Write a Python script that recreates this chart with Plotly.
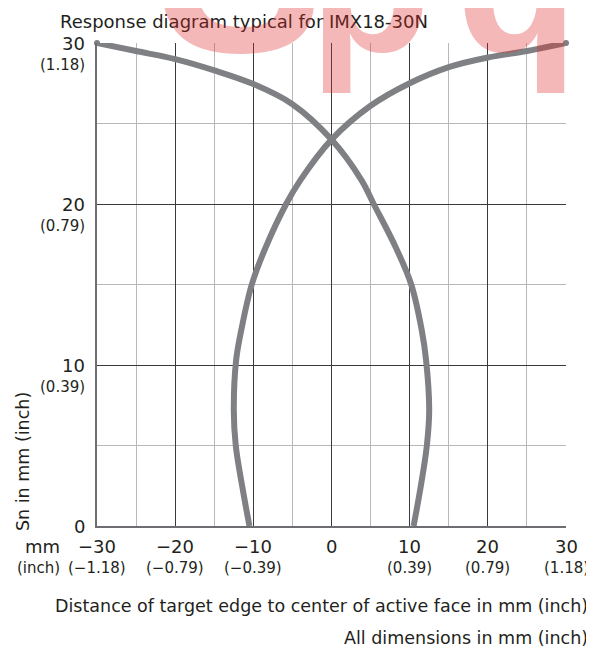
import plotly.graph_objects as go

# ---- data ----
# Curve starting at the top-left corner (-30, 30)
curve_a_x = [-30, -25, -20, -15, -10, -5, 0, 3.85, 5.4, 8.2, 10.2, 11.55, 12.1, 12.5, 12.2, 11.4, 10.5]
curve_a_y = [30, 29.5, 29.0, 28.3, 27.45, 26.2, 24.0, 21.47, 20.0, 17.33, 15.0, 12.15, 10.3, 7.2, 5.0, 2.4, 0]
# Curve starting at the top-right corner (30, 30)
curve_b_x = [30, 25, 20, 15, 10, 5, 0, -4.0, -5.8, -8.4, -10.2, -11.55, -12.2, -12.5, -12.25, -11.4, -10.5]
curve_b_y = [30, 29.5, 29.1, 28.5, 27.5, 26.1, 24.0, 21.47, 20.0, 17.33, 15.0, 12.15, 10.3, 7.2, 5.0, 2.4, 0]

x_tick_vals = [-30, -20, -10, 0, 10, 20, 30]
x_tick_mm = ["\u221230", "\u221220", "\u221210", "0", "10", "20", "30"]
x_tick_inch = ["(\u22121.18)", "(\u22120.79)", "(\u22120.39)", "", "(0.39)", "(0.79)", "(1.18)"]
y_tick_vals = [0, 10, 20, 30]
y_tick_mm = ["0", "10", "20", "30"]
y_tick_inch = ["", "(0.39)", "(0.79)", "(1.18)"]

title_text = "Response diagram typical for IMX18-30N"
x_title = "Distance of target edge to center of active face in mm (inch)"
y_title = "Sn in mm (inch)"
note_text = "All dimensions in mm (inch)"

FONT = "DejaVu Sans"
TXT = "#231f20"
CURVE = "#7f8084"
PINK = "rgba(225,40,40,0.33)"

fig = go.Figure()
for cx, cy in [(curve_a_x, curve_a_y), (curve_b_x, curve_b_y)]:
    fig.add_trace(go.Scatter(x=cx, y=cy, mode="lines",
                             line=dict(color=CURVE, width=6, shape="spline", smoothing=1.0),
                             hoverinfo="skip", showlegend=False))
    fig.add_trace(go.Scatter(x=[cx[0]], y=[cy[0]], mode="markers",
                             marker=dict(color=CURVE, size=6), cliponaxis=False,
                             hoverinfo="skip", showlegend=False))

annotations = []
# y tick labels
for v, mm, inch in zip(y_tick_vals, y_tick_mm, y_tick_inch):
    annotations.append(dict(x=0, xref="paper", y=v, yref="y", text=mm, showarrow=False,
                            xanchor="right", yanchor="middle", xshift=-10,
                            font=dict(family=FONT, size=18, color=TXT)))
    if inch:
        annotations.append(dict(x=0, xref="paper", y=v, yref="y", text=inch, showarrow=False,
                                xanchor="right", yanchor="middle", xshift=-10, yshift=-22,
                                font=dict(family=FONT, size=15, color=TXT)))
# x tick labels
for v, mm, inch in zip(x_tick_vals, x_tick_mm, x_tick_inch):
    annotations.append(dict(x=v, xref="x", y=0, yref="paper", text=mm, showarrow=False,
                            xanchor="center", yanchor="middle", yshift=-20,
                            font=dict(family=FONT, size=18, color=TXT)))
    if inch:
        annotations.append(dict(x=v, xref="x", y=0, yref="paper", text=inch, showarrow=False,
                                xanchor="center", yanchor="middle", yshift=-42,
                                font=dict(family=FONT, size=15, color=TXT)))
annotations.append(dict(x=0, xref="paper", y=0, yref="paper", text="mm", showarrow=False,
                        xanchor="right", yanchor="middle", xshift=-35, yshift=-20,
                        font=dict(family=FONT, size=18, color=TXT)))
annotations.append(dict(x=0, xref="paper", y=0, yref="paper", text="(inch)", showarrow=False,
                        xanchor="right", yanchor="middle", xshift=-35, yshift=-42,
                        font=dict(family=FONT, size=15, color=TXT)))
# titles
annotations.append(dict(x=0, xref="paper", y=1, yref="paper", text=title_text, showarrow=False,
                        xanchor="left", yanchor="middle", xshift=-39, yshift=22,
                        font=dict(family=FONT, size=18, color=TXT)))
annotations.append(dict(x=1, xref="paper", y=0, yref="paper", text=x_title, showarrow=False,
                        xanchor="right", yanchor="middle", xshift=24, yshift=-80,
                        font=dict(family=FONT, size=17.5, color=TXT)))
annotations.append(dict(x=1, xref="paper", y=0, yref="paper", text=note_text, showarrow=False,
                        xanchor="right", yanchor="middle", xshift=24, yshift=-112,
                        font=dict(family=FONT, size=17.5, color=TXT)))
annotations.append(dict(x=0, xref="paper", y=0, yref="paper", text=y_title, showarrow=False,
                        textangle=-90, xanchor="center", yanchor="middle", xshift=-74, yshift=64,
                        font=dict(family=FONT, size=17.5, color=TXT)))
# pink watermark (partly above the page)
for letter, size, xs, ys in [("S", 250, 143, -64), ("p", 200, 273, -52), ("q", 200, 420, -52)]:
    annotations.append(dict(x=0, xref="paper", y=1, yref="paper", text="<b>%s</b>" % letter,
                            showarrow=False, xanchor="center", yanchor="bottom",
                            xshift=xs, yshift=ys,
                            font=dict(family="Liberation Sans", size=size, color=PINK)))

axis_common = dict(showticklabels=False, ticks="", zeroline=False,
                   showgrid=True, gridcolor="#3a3a3a", gridwidth=1,
                   showline=True, linecolor="#6d6e71", linewidth=1.5, mirror=False)

fig.update_layout(
    width=594, height=655,
    margin=dict(l=89, r=36, t=35, b=137),
    paper_bgcolor="white", plot_bgcolor="white",
    xaxis=dict(range=[-30, 30], dtick=10, tick0=0,
               minor=dict(dtick=5, showgrid=True, gridcolor="#b8b8b8", gridwidth=1),
               **axis_common),
    yaxis=dict(range=[0, 30], dtick=10, tick0=0,
               minor=dict(dtick=5, showgrid=True, gridcolor="#b8b8b8", gridwidth=1),
               **axis_common),
    annotations=annotations,
)

fig.write_html("out.html")
